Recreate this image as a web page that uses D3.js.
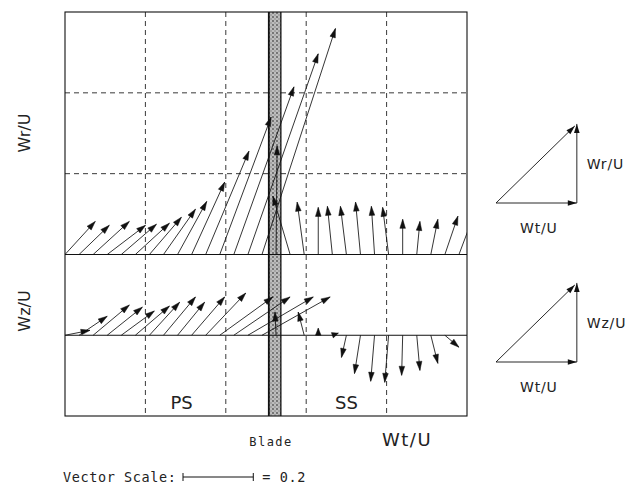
<!DOCTYPE html>
<html>
<head>
<meta charset="utf-8">
<script src="https://cdn.jsdelivr.net/npm/d3@7"></script>
<style>
  body { margin: 0; background: #fff; }
  svg { display: block; }
  text { font-family: "DejaVu Sans", sans-serif; fill: #222; }
  .mono { font-family: "DejaVu Sans Mono", monospace; }
</style>
</head>
<body>
<svg id="chart" width="633" height="489"></svg>
<script>
// measurement positions across the pitch (% of pitch, PS at 0, SS at 100)
const pitchPos = [0, 3.5, 7, 10.5, 14, 17.5, 21, 24.5, 28, 31.5, 35, 38.5, 42, 45.5, 49,
                  52.5, 56, 59.5, 63, 66.5, 70, 73.5, 77, 80.5, 84, 87.5, 91, 94.5, 98];

// upper plot: Wt/U and Wr/U
const wtUpper = [0.086, 0.086, 0.103, 0.109, 0.100, 0.097, 0.091, 0.091, 0.083, 0.094, 0.123, 0.146, 0.171, 0.200, 0.209,
                 0.003, -0.049, -0.020, 0.000, -0.014, -0.017, -0.014, -0.009, -0.017, 0.000, 0.009, 0.020, 0.037, 0.043];
const wrUpper = [0.094, 0.083, 0.094, 0.083, 0.086, 0.089, 0.106, 0.129, 0.151, 0.206, 0.294, 0.391, 0.477, 0.571, 0.643,
                 0.309, 0.166, 0.149, 0.134, 0.137, 0.137, 0.149, 0.137, 0.134, 0.100, 0.094, 0.100, 0.109, 0.114];

// lower plot: Wt/U and Wz/U (null = no vector)
const wtLower = [0.071, 0.080, 0.103, 0.100, 0.094, 0.097, 0.086, 0.091, 0.077, 0.094, 0.114, 0.151, 0.160, 0.186, 0.194,
                 -0.003, null, -0.017, 0.000, 0.017, -0.014, -0.017, -0.011, -0.011, -0.003, 0.009, 0.020, 0.040, null];
const wzLower = [0.014, 0.054, 0.086, 0.080, 0.069, 0.083, 0.094, 0.109, 0.094, 0.109, 0.120, 0.109, 0.109, 0.109, 0.109,
                 0.066, null, 0.066, 0.020, 0.006, -0.063, -0.109, -0.131, -0.134, -0.114, -0.100, -0.080, -0.034, null];

const bladeEdges = [50.7, 53.7];
const pitchGrid = [20, 40, 60, 80];
const upperGrid = [0.23, 0.46];
const lowerGrid = [0];
const scaleLength = 0.2;

const svg = d3.select('#chart');

const x = d3.scaleLinear().domain([0, 100]).range([65, 467]);
const yUp = d3.scaleLinear().domain([0, 0.69]).range([254.5, 12]);
const yLow = d3.scaleLinear().domain([-0.23, 0.23]).range([416, 254.5]);
// vector length in px, same for both components
const v = d3.scaleLinear().domain([0, 0.23]).range([0, yUp(0) - yUp(0.23)]);

svg.append('defs').append('clipPath').attr('id', 'frame')
    .append('rect').attr('x', x(0)).attr('y', yUp(0.69))
    .attr('width', x(100) - x(0)).attr('height', yLow(-0.23) - yUp(0.69));

let dots = svg.select('defs').append('pattern').attr('id', 'stipple')
    .attr('width', 4).attr('height', 4).attr('patternUnits', 'userSpaceOnUse');
dots.append('rect').attr('width', 4).attr('height', 4).attr('fill', '#bdbdbd');
dots.append('circle').attr('cx', 1).attr('cy', 1).attr('r', 0.9).attr('fill', '#555');
dots.append('circle').attr('cx', 3).attr('cy', 3).attr('r', 0.7).attr('fill', '#777');

// grid
let grid = svg.append('g').attr('stroke', '#222').attr('stroke-width', 0.9).attr('stroke-dasharray', '5,4');
grid.selectAll('.gx').data(pitchGrid).enter().append('line')
    .attr('x1', d => x(d)).attr('x2', d => x(d))
    .attr('y1', yUp(0.69)).attr('y2', yLow(-0.23));
grid.selectAll('.gu').data(upperGrid).enter().append('line')
    .attr('x1', x(0)).attr('x2', x(100))
    .attr('y1', d => yUp(d)).attr('y2', d => yUp(d));

// blade
svg.append('rect')
    .attr('x', x(bladeEdges[0])).attr('y', yUp(0.69))
    .attr('width', x(bladeEdges[1]) - x(bladeEdges[0]))
    .attr('height', yLow(-0.23) - yUp(0.69))
    .attr('fill', 'url(#stipple)');
svg.selectAll('.blade-edge').data(bladeEdges).enter().append('line')
    .attr('x1', d => x(d)).attr('x2', d => x(d))
    .attr('y1', yUp(0.69)).attr('y2', yLow(-0.23))
    .attr('stroke', '#111').attr('stroke-width', (d, i) => i ? 1.3 : 1.8);

// solid baselines and frame
svg.append('line').attr('x1', x(0)).attr('x2', x(100)).attr('y1', yUp(0)).attr('y2', yUp(0))
    .attr('stroke', '#111').attr('stroke-width', 1);
svg.selectAll('.gl').data(lowerGrid).enter().append('line')
    .attr('x1', x(0)).attr('x2', x(100)).attr('y1', d => yLow(d)).attr('y2', d => yLow(d))
    .attr('stroke', '#111').attr('stroke-width', 1);
svg.append('rect').attr('x', x(0)).attr('y', yUp(0.69))
    .attr('width', x(100) - x(0)).attr('height', yLow(-0.23) - yUp(0.69))
    .attr('fill', 'none').attr('stroke', '#111').attr('stroke-width', 1.1);

function arrowHead(x1, y1, x2, y2, len = 9, half = 2.8) {
    let a = Math.atan2(y2 - y1, x2 - x1);
    let bx = x2 - len * Math.cos(a), by = y2 - len * Math.sin(a);
    let nx = -Math.sin(a) * half, ny = Math.cos(a) * half;
    return `M${x2},${y2}L${bx + nx},${by + ny}L${bx - nx},${by - ny}Z`;
}

function drawVectors(wt, wn, y) {
    let rows = pitchPos.map((p, i) => ({p, wt: wt[i], wn: wn[i]})).filter(d => d.wt !== null);
    let g = svg.append('g').attr('clip-path', 'url(#frame)');
    rows.forEach(d => {
        let x1 = x(d.p), y1 = y(0);
        let x2 = x1 + v(d.wt), y2 = y1 - v(d.wn);
        let length = Math.hypot(x2 - x1, y2 - y1);
        g.append('line').attr('x1', x1).attr('y1', y1).attr('x2', x2).attr('y2', y2)
            .attr('stroke', '#111').attr('stroke-width', 0.85);
        g.append('path').attr('d', arrowHead(x1, y1, x2, y2, Math.min(9, length), 2.8))
            .attr('fill', '#111').attr('stroke', '#111').attr('stroke-width', 0.5);
    });
}

drawVectors(wtUpper, wrUpper, yUp);
drawVectors(wtLower, wzLower, yLow);

// axis labels
svg.append('text').attr('transform', 'translate(30,133) rotate(-90)')
    .attr('text-anchor', 'middle').attr('font-size', 16).text('Wr/U');
svg.append('text').attr('transform', 'translate(30,311) rotate(-90)')
    .attr('text-anchor', 'middle').attr('font-size', 16).text('Wz/U');
svg.append('text').attr('x', x(29)).attr('y', 409).attr('text-anchor', 'middle')
    .attr('font-size', 18).text('PS');
svg.append('text').attr('x', x(70)).attr('y', 409).attr('text-anchor', 'middle')
    .attr('font-size', 18).text('SS');
svg.append('text').attr('class', 'mono').attr('x', 271).attr('y', 446).attr('text-anchor', 'middle')
    .attr('font-size', 12).attr('letter-spacing', 1.5).text('Blade');
svg.append('text').attr('x', 382).attr('y', 446)
    .attr('font-size', 18).attr('letter-spacing', 1.5).text('Wt/U');

// vector scale
svg.append('text').attr('class', 'mono').attr('x', 63).attr('y', 482)
    .attr('font-size', 13.5).attr('letter-spacing', 0.6).text('Vector Scale:');
let sx = 183, sy = 477;
let bar = svg.append('g').attr('stroke', '#111').attr('stroke-width', 1);
bar.append('line').attr('x1', sx).attr('x2', sx + v(scaleLength)).attr('y1', sy).attr('y2', sy);
bar.selectAll('.tick').data([0, scaleLength]).enter().append('line')
    .attr('x1', d => sx + v(d)).attr('x2', d => sx + v(d)).attr('y1', sy - 4).attr('y2', sy + 4);
svg.append('text').attr('class', 'mono').attr('x', sx + v(scaleLength) + 9).attr('y', 482)
    .attr('font-size', 13.5).attr('letter-spacing', 0.6).text('= 0.2');

// legend triangles
function triangle(ox, oy, label) {
    let w = v(0.23), h = v(0.225);
    let g = svg.append('g');
    let segs = [[ox, oy, ox + w, oy], [ox + w, oy, ox + w, oy - h], [ox, oy, ox + w - 2, oy - h + 2]];
    segs.forEach(s => {
        g.append('line').attr('x1', s[0]).attr('y1', s[1]).attr('x2', s[2]).attr('y2', s[3])
            .attr('stroke', '#111').attr('stroke-width', 0.9);
        g.append('path').attr('d', arrowHead(...s, 9, 2.8)).attr('fill', '#111');
    });
    g.append('text').attr('x', ox + w + 10).attr('y', oy - h / 2 + 6).attr('font-size', 14)
        .attr('letter-spacing', 0.8).text(label);
    g.append('text').attr('x', ox + 24).attr('y', oy + 30).attr('font-size', 14)
        .attr('letter-spacing', 0.8).text('Wt/U');
}
triangle(496, 203, 'Wr/U');
triangle(496, 362, 'Wz/U');
</script>
</body>
</html>
